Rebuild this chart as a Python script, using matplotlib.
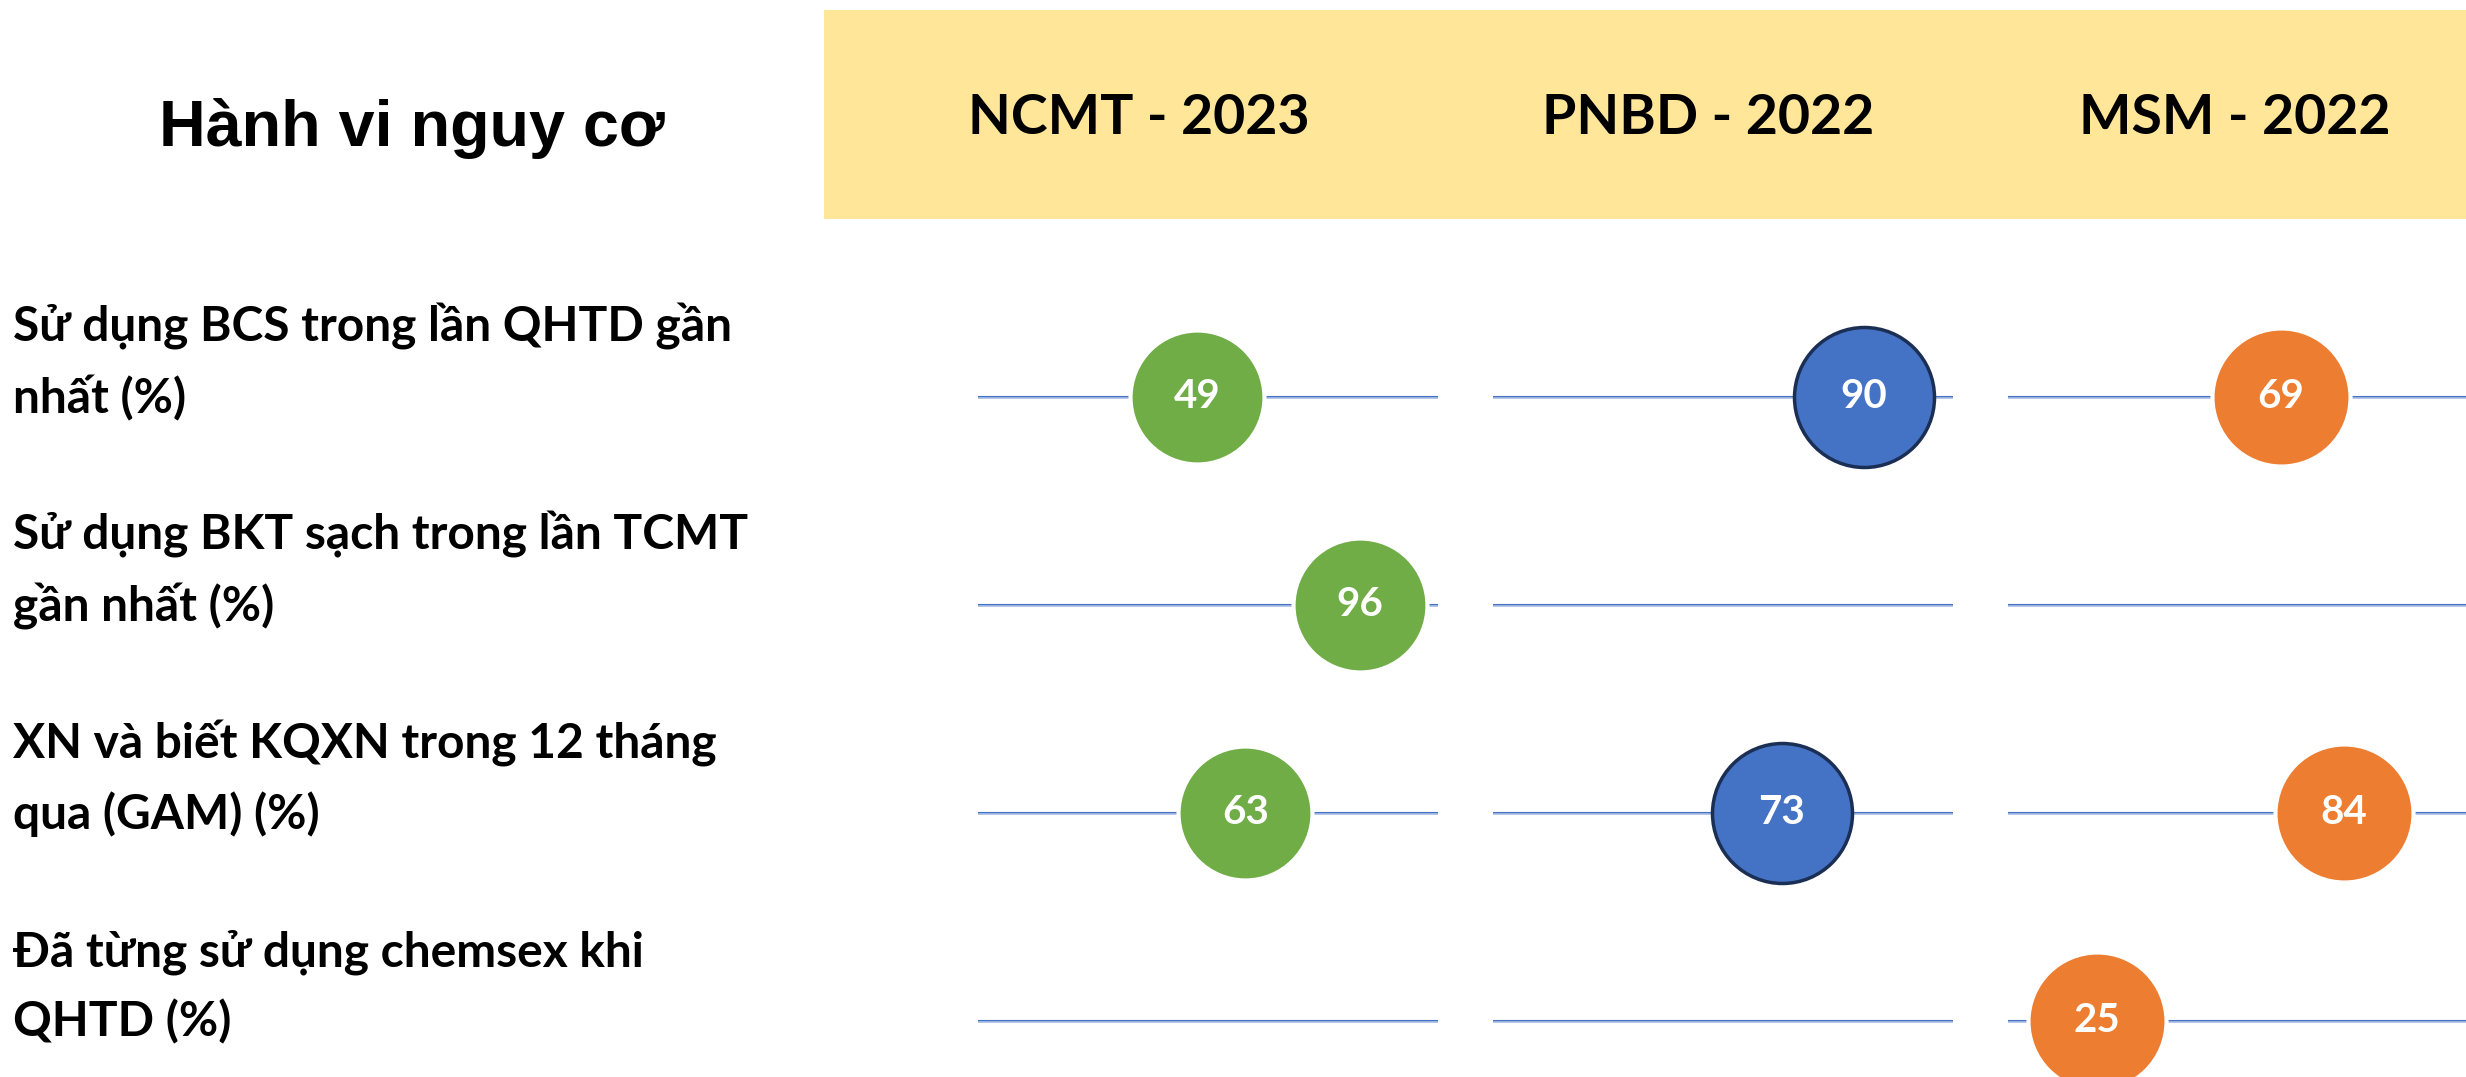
import matplotlib.pyplot as plt
import matplotlib.transforms as mtransforms
from matplotlib.patches import Rectangle

# data
behaviours = [
    "Sử dụng BCS trong lần QHTD gần\nnhất (%)",
    "Sử dụng BKT sạch trong lần TCMT\ngần nhất (%)",
    "XN và biết KQXN trong 12 tháng\nqua (GAM) (%)",
    "Đã từng sử dụng chemsex khi\nQHTD (%)",
]
groups = ["NCMT - 2023", "PNBD - 2022", "MSM - 2022"]
ncmt_rows = [0, 1, 2]
ncmt_vals = [49, 96, 63]
pnbd_rows = [0, 2]
pnbd_vals = [90, 73]
msm_rows = [0, 2, 3]
msm_vals = [69, 84, 25]

W, H = 2466, 1077
fig = plt.figure(figsize=(W / 100, H / 100), dpi=100)
fig.patch.set_facecolor("white")

lato = ["Lato", "Noto Sans", "DejaVu Sans"]

# yellow header band
fig.patches.append(Rectangle((824 / W, 1 - 219 / H), (W - 824) / W, 209 / H,
                             transform=fig.transFigure, facecolor="#FFE699",
                             edgecolor="none", zorder=0))

fig.text(412 / W, 1 - 128 / H, "Hành vi nguy cơ", ha="center", va="center",
         fontsize=46.5, fontweight="bold", family=["Liberation Sans", "DejaVu Sans"])

header_x = [1139, 1708, 2235]
for name, hx in zip(groups, header_x):
    fig.text(hx / W, 1 - 118 / H, name, ha="center", va="center",
             fontsize=40, fontweight="bold", family=lato)

# one axes per column: left px, right px, xlim, rows, values, styling
cols = [
    (978, 1438, -14.2, 118.6, ncmt_rows, ncmt_vals, "#70AD47", "white", 9300, 3),
    (1493, 1953, 13.1, 108.5, pnbd_rows, pnbd_vals, "#4472C4", "#1B2F54", 10160, 2.5),
    (2008, 2466, 3.66, 113.3, msm_rows, msm_vals, "#ED7D31", "white", 9880, 3),
]

top_px, bot_px = 250, H
row0, row_step = 396.6, 208.1
y_top = (top_px - row0) / row_step
y_bot = (bot_px - row0) / row_step

axes = []
for left, right, xmin, xmax, rows, vals, col, edge, size, elw in cols:
    ax = fig.add_axes([left / W, 0, (right - left) / W, (bot_px - top_px) / H])
    ax.set_xlim(xmin, xmax)
    ax.set_ylim(y_bot, y_top)
    ax.axis("off")
    for i in range(len(behaviours)):
        ax.axhline(i, color="#4472C4", lw=1.5, zorder=1)
        ax.axhline(i + 0.007, color="#A9BDE3", lw=1.2, zorder=1)
    ax.scatter(vals, rows, s=size, color=col, edgecolors=edge, linewidths=elw,
               zorder=3, clip_on=False)
    for v, r in zip(vals, rows):
        ax.text(v, r, str(v), ha="center", va="center", color="white",
                fontsize=29, fontweight="bold", family=lato, zorder=4)
    axes.append(ax)

# row labels, x in figure, y in data rows
trans = mtransforms.blended_transform_factory(fig.transFigure, axes[0].transData)
for i, lab in enumerate(behaviours):
    fig.text(13 / W, i - 0.165, lab, transform=trans, ha="left", va="center",
             fontsize=34.5, fontweight="bold", family=lato, linespacing=1.65)

fig.savefig("out.png", dpi=100)
